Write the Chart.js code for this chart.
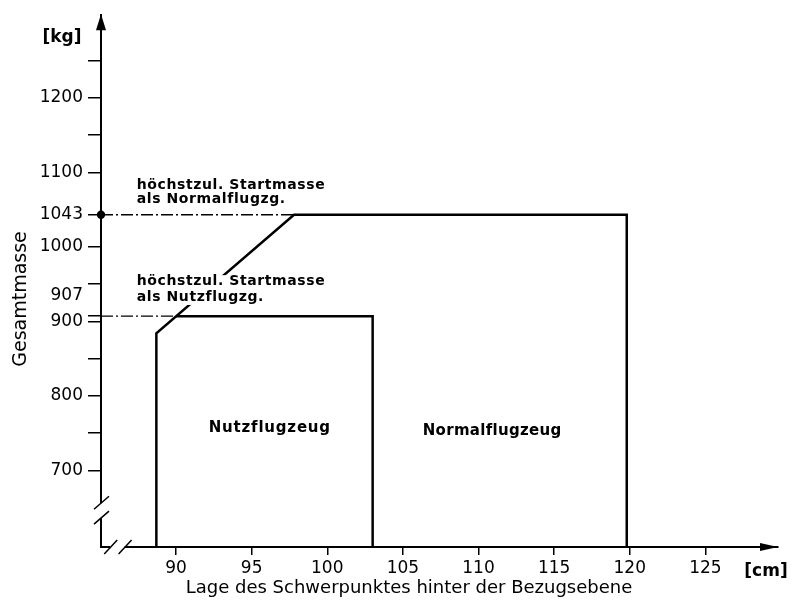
<!DOCTYPE html>
<html>
<head>
<meta charset="utf-8">
<script src="https://cdn.jsdelivr.net/npm/chart.js@4.4.1/dist/chart.umd.min.js"></script>
<style>
    html, body { margin: 0; padding: 0; background: #fff; }
    #wrap { width: 793px; height: 603px; }
</style>
</head>
<body>
<div id="wrap"><canvas id="schwerpunktGrafik"></canvas></div>
<script>
// Schwerpunktlage [cm] / Gesamtmasse [kg]
const X_MIN = 85.04, X_MAX = 129.8;
const Y_MIN = 597.3, Y_MAX = 1310.7;

// Grenze Normalflugzeug (vorne schräg, hinten senkrecht)
const normalX = [88.7, 88.7, 97.8, 119.8, 119.8];
const normalY = [Y_MIN, 884, 1043, 1043, Y_MIN];
// Grenze Nutzflugzeug
const nutzX = [90.0, 103, 103];
const nutzY = [907, 907, Y_MIN];
// Hilfslinien höchstzul. Startmasse
const startNormalX = [X_MIN, 97.8];
const startNormalY = [1043, 1043];
const startNutzX = [X_MIN, 90.0];
const startNutzY = [907, 907];

const xTicks = [90, 95, 100, 105, 110, 115, 120, 125];
const yTicks = [700, 750, 800, 850, 900, 907, 950, 1000, 1043, 1100, 1150, 1200, 1250];
const yLabels = [700, 800, 900, 907, 1000, 1043, 1100, 1200];

function punkte(xs, ys) {
    return xs.map(function(x, i) { return { x: x, y: ys[i] }; });
}

const schrift = "'DejaVu Sans', sans-serif";

// Texte im Diagramm (Lage in Achsenwerten)
const texte = [
    { t: 'höchstzul. Startmasse', x: 87.4, y: 1083 },
    { t: 'als Normalflugzg.', x: 87.4, y: 1064 },
    { t: 'höchstzul. Startmasse', x: 87.4, y: 953 },
    { t: 'als Nutzflugzg.', x: 87.4, y: 932 }
];

const extras = {
    id: 'extras',
    afterDatasetsDraw(chart) {
        const ctx = chart.ctx;
        const xs = chart.scales.x, ys = chart.scales.y;
        ctx.save();
        ctx.textBaseline = 'middle';
        // weißer Hintergrund unter dem unteren Text, damit die Schräge verdeckt ist
        const l = xs.getPixelForValue(87.2);
        const o = ys.getPixelForValue(962);
        const u = ys.getPixelForValue(922);
        ctx.fillStyle = '#fff';
        ctx.fillRect(l, o, 200, u - o);
        ctx.fillStyle = '#000';
        ctx.font = 'bold 14px ' + schrift;
        ctx.letterSpacing = '0.6px';
        ctx.textAlign = 'left';
        texte.forEach(function(tx) {
            ctx.fillText(tx.t, xs.getPixelForValue(tx.x), ys.getPixelForValue(tx.y));
        });
        ctx.font = 'bold 15px ' + schrift;
        ctx.textAlign = 'center';
        ctx.letterSpacing = '0.8px';
        ctx.fillText('Nutzflugzeug', xs.getPixelForValue(96.2), ys.getPixelForValue(757));
        ctx.letterSpacing = '0.3px';
        ctx.fillText('Normalflugzeug', xs.getPixelForValue(110.9), ys.getPixelForValue(753));
        ctx.restore();
    },
    afterDraw(chart) {
        const ctx = chart.ctx;
        const a = chart.chartArea;
        const xs = chart.scales.x, ys = chart.scales.y;
        ctx.save();
        ctx.fillStyle = '#000';
        ctx.strokeStyle = '#000';

        // Pfeilspitzen
        ctx.beginPath();
        ctx.moveTo(a.left, a.top - 1);
        ctx.lineTo(a.left - 5, a.top + 15);
        ctx.lineTo(a.left + 5, a.top + 15);
        ctx.closePath();
        ctx.fill();
        ctx.beginPath();
        ctx.moveTo(a.right, a.bottom);
        ctx.lineTo(a.right - 18, a.bottom - 4);
        ctx.lineTo(a.right - 18, a.bottom + 4);
        ctx.closePath();
        ctx.fill();

        // Achsenbrüche
        const yb1 = ys.getPixelForValue(656), yb2 = ys.getPixelForValue(636);
        ctx.fillStyle = '#fff';
        ctx.fillRect(a.left - 3, yb1, 6, yb2 - yb1);
        const xb1 = xs.getPixelForValue(85.65), xb2 = xs.getPixelForValue(86.6);
        ctx.fillRect(xb1, a.bottom - 3, xb2 - xb1, 6);
        ctx.lineWidth = 1.5;
        ctx.beginPath();
        ctx.moveTo(a.left - 7, yb1 + 6); ctx.lineTo(a.left + 8, yb1 - 7);
        ctx.moveTo(a.left - 7, yb2 + 6); ctx.lineTo(a.left + 8, yb2 - 7);
        ctx.moveTo(xb1 - 6, a.bottom + 7); ctx.lineTo(xb1 + 7, a.bottom - 7);
        ctx.moveTo(xb2 - 6, a.bottom + 7); ctx.lineTo(xb2 + 7, a.bottom - 7);
        ctx.stroke();

        // Achsentitel und Einheiten
        ctx.fillStyle = '#000';
        ctx.textBaseline = 'middle';
        ctx.textAlign = 'center';
        ctx.font = 'bold 17px ' + schrift;
        ctx.fillText('[kg]', 62, 38);
        ctx.fillText('[cm]', 766, 572);
        ctx.font = '18px ' + schrift;
        ctx.fillText('Lage des Schwerpunktes hinter der Bezugsebene', 409, 588);
        ctx.translate(21, 299);
        ctx.rotate(-Math.PI / 2);
        ctx.font = '19px ' + schrift;
        ctx.fillText('Gesamtmasse', 0, 0);
        ctx.restore();
    }
};

const ctx = document.getElementById('schwerpunktGrafik').getContext('2d');
new Chart(ctx, {
    type: 'scatter',
    data: {
        datasets: [
            {
                label: 'Normalflugzeug',
                data: punkte(normalX, normalY),
                showLine: true,
                borderColor: '#000',
                borderWidth: 2.5,
                pointRadius: 0
            },
            {
                label: 'Nutzflugzeug',
                data: punkte(nutzX, nutzY),
                showLine: true,
                borderColor: '#000',
                borderWidth: 2.5,
                pointRadius: 0
            },
            {
                label: 'Startmasse Normal',
                data: punkte(startNormalX, startNormalY),
                showLine: true,
                borderColor: '#000',
                borderWidth: 1.3,
                borderDash: [12, 3, 2, 3],
                pointRadius: [3.5, 0],
                pointBackgroundColor: '#000',
                clip: false
            },
            {
                label: 'Startmasse Nutz',
                data: punkte(startNutzX, startNutzY),
                showLine: true,
                borderColor: '#000',
                borderWidth: 1.3,
                borderDash: [12, 3, 2, 3],
                pointRadius: 0
            }
        ]
    },
    options: {
        responsive: true,
        maintainAspectRatio: false,
        animation: false,
        layout: { padding: { top: 12, right: 15, left: 0, bottom: 0 } },
        plugins: {
            legend: { display: false },
            tooltip: { enabled: false }
        },
        scales: {
            x: {
                type: 'linear',
                min: X_MIN,
                max: X_MAX,
                afterBuildTicks: function(scale) {
                    scale.ticks = xTicks.map(function(v) { return { value: v }; });
                },
                afterFit: function(scale) { scale.height = 56; },
                ticks: {
                    color: '#000',
                    padding: 3,
                    maxRotation: 0,
                    autoSkip: false,
                    font: { family: schrift, size: 17 },
                    callback: function(value) { return String(value); }
                },
                grid: { drawOnChartArea: false, drawTicks: true, tickLength: 8, color: '#000', lineWidth: 1.5 },
                border: { display: true, color: '#000', width: 2 }
            },
            y: {
                type: 'linear',
                min: Y_MIN,
                max: Y_MAX,
                afterBuildTicks: function(scale) {
                    scale.ticks = yTicks.map(function(v) { return { value: v }; });
                },
                afterFit: function(scale) { scale.width = 101; },
                ticks: {
                    color: '#000',
                    padding: 5,
                    autoSkip: false,
                    font: { family: schrift, size: 17 },
                    callback: function(value) {
                        if (value === 907) return ['907', '', ''];
                        return yLabels.indexOf(value) >= 0 ? String(value) : '';
                    }
                },
                grid: { drawOnChartArea: false, drawTicks: true, tickLength: 13, color: '#000', lineWidth: 1.5 },
                border: { display: true, color: '#000', width: 2 }
            }
        }
    },
    plugins: [extras]
});
</script>
</body>
</html>
